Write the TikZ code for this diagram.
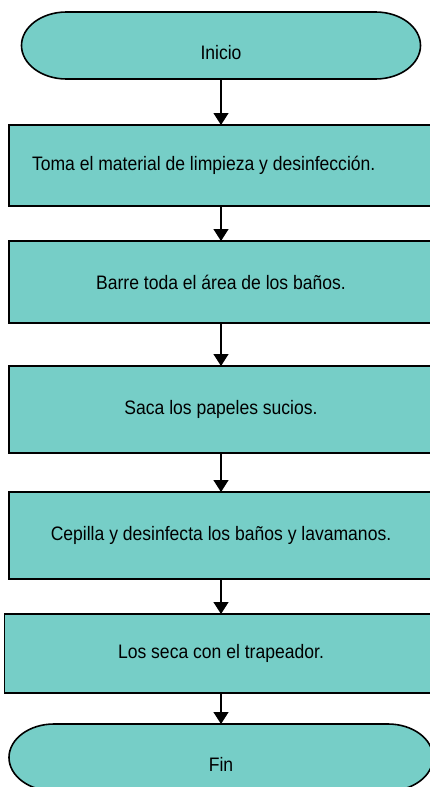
\documentclass[tikz,border=0pt]{standalone}
\usepackage{fontspec}
\setmainfont{Liberation Sans}[FakeStretch=0.9]
\usepackage{xcolor}
\usetikzlibrary{arrows.meta,backgrounds}
\definecolor{TealFill}{HTML}{76CEC7}
\definecolor{EdgeBlack}{HTML}{000000}

\begin{document}
\begin{tikzpicture}[x=1pt,y=-1pt,
    font=\fontsize{19.5}{23}\selectfont,
    stepbox/.style={draw=EdgeBlack, line width=1.6pt, fill=TealFill, minimum width=424pt, inner sep=0pt, outer sep=0pt},
    termbox/.style={minimum width=424pt, minimum height=67pt, inner sep=0pt, outer sep=0pt},
    termline/.style={draw=EdgeBlack, line width=1.6pt, fill=TealFill},
    flow/.style={-{Triangle[width=15pt,length=12pt]}, line width=1.3pt, EdgeBlack}]
    \useasboundingbox (0,0) rectangle (430,787);

    % terminals and steps
    \node[termbox, minimum width=399pt, label={[yshift=-7pt]center:Inicio}] (ini) at (221,45.5) {};
    \node[stepbox, minimum height=81pt, text width=378pt, inner xsep=23pt, align=flush left] (s1) at (221,165.5) {Toma el material de limpieza y desinfección.};
    \node[stepbox, minimum height=82pt] (s2) at (221,282) {Barre toda el área de los baños.};
    \node[stepbox, minimum height=87pt] (s3) at (221,409.5) {Saca los papeles sucios.};
    \node[stepbox, minimum height=87pt] (s4) at (221,535.5) {Cepilla y desinfecta los baños y lavamanos.};
    \node[stepbox, minimum height=79pt, minimum width=433pt] (s5) at (221,653.5) {Los seca con el trapeador.};
    \node[termbox, label={[yshift=-7pt]center:Fin}] (fin) at (221,757.5) {};

    % outline of the terminals
    \begin{scope}[on background layer]
        \foreach \t in {ini,fin}
            \draw[termline] ([xshift=45pt]\t.north west) -- ([xshift=-45pt]\t.north east)
                arc[start angle=90,end angle=-90,x radius=45pt,y radius=33.5pt]
                -- ([xshift=45pt]\t.south west)
                arc[start angle=270,end angle=90,x radius=45pt,y radius=33.5pt] -- cycle;
    \end{scope}

    \draw[flow] (ini) -- (s1);
    \draw[flow] (s1) -- (s2);
    \draw[flow] (s2) -- (s3);
    \draw[flow] (s3) -- (s4);
    \draw[flow] (s4) -- (s5);
    \draw[flow] (s5) -- (fin);
\end{tikzpicture}
\end{document}
